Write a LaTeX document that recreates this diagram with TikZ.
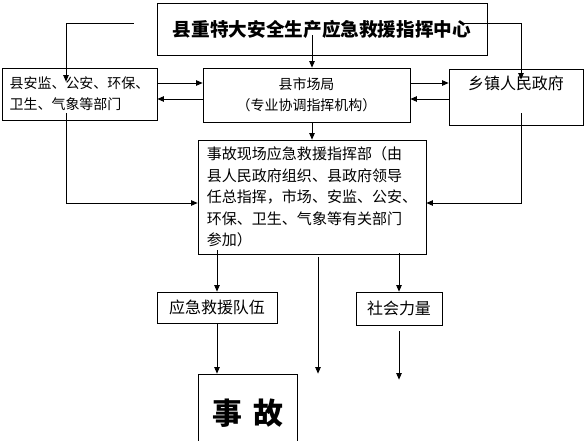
\documentclass[tikz,border=0pt]{standalone}
\usepackage{fontspec}
\setmainfont{Noto Sans CJK SC}
\usetikzlibrary{arrows.meta,calc}

\begin{document}
\begin{tikzpicture}[
  box/.style={draw, rectangle, line width=.9pt, inner sep=0pt},
  smalltext/.style={font=\fontsize{15.9pt}{23.9pt}\selectfont},
  cmdtext/.style={font=\fontsize{17.1pt}{24.5pt}\selectfont},
  midtext/.style={font=\fontsize{18.2pt}{24pt}\selectfont},
  arr/.style={-{Triangle[length=.26cm,width=.22cm]}, line width=.9pt}
]
\useasboundingbox (0,0) rectangle (23.4cm,-17.64cm);
\clip (0,0) rectangle (23.4cm,-17.64cm);

\node (center) at(12.88cm,-1.16cm) [box, minimum width=13.2cm, minimum height=2.08cm, font=\fontsize{21.2pt}{24pt}\selectfont\bfseries]{县重特大安全生产应急救援指挥中心};

\node (dept) at(3.18cm,-3.76cm) [box, smalltext, align=left, minimum width=6.2cm, minimum height=2.08cm]{县安监、公安、环保、\\卫生、气象等部门};
\node (market) at(12.26cm,-3.8cm) [box, smalltext, align=center, minimum width=8.28cm, minimum height=2.16cm]{县市场局\\（专业协调指挥机构）};
\node (town) at(20.64cm,-3.88cm) [box, minimum width=5.36cm, minimum height=2.24cm, label={[anchor=center, yshift=-.6cm, midtext]north:乡镇人民政府}]{};

\node (cmd) at(12.48cm,-7.88cm) [box, cmdtext, align=left, minimum width=9.12cm, minimum height=4.56cm]{事故现场应急救援指挥部（由\\县人民政府组织、县政府领导\\任总指挥，市场、安监、公安、\\环保、卫生、气象等有关部门\\参加）};

\node (team) at(8.68cm,-12.3cm) [box, midtext, minimum width=4.8cm, minimum height=1.24cm]{应急救援队伍};
\node (social) at(15.96cm,-12.34cm) [box, midtext, minimum width=3.44cm, minimum height=1.32cm]{社会力量};

\node (accident) at(9.9cm,-16.52cm) [box, minimum width=3.96cm, minimum height=3.12cm, font=\fontsize{34pt}{36pt}\selectfont\bfseries]{事\hspace{.45cm}故};

% from the centre
\draw [arr] ([xshift=-.92cm,yshift=.24cm]center.west) -| ([xshift=-.54cm,yshift=-.56cm]dept.north);
\draw [arr] ([xshift=-1.08cm,yshift=.24cm]center.east) -| ([xshift=.2cm,yshift=-.44cm]town.north);
\draw [arr] ([xshift=-.4cm,yshift=.8cm]center.south) -- ([xshift=-.4cm]center.south |- market.north);

% between the offices
\draw [arr] ([yshift=.44cm]dept.east) -- ([yshift=.44cm]dept.east -| market.west);
\draw [arr] ([yshift=-.2cm]dept.east -| market.west) -- ([yshift=-.2cm]dept.east);
\draw [arr] ([yshift=.48cm]market.east) -- ([yshift=.48cm]market.east -| town.west);
\draw [arr] ([yshift=-.16cm]market.east -| town.west) -- ([yshift=-.16cm]market.east);

% into the command
\draw [arr] ([xshift=.22cm]market.south) -- ([xshift=.22cm]market.south |- cmd.north);
\draw [arr] ([xshift=-.54cm,yshift=.28cm]dept.south) |- ([yshift=-.24cm]cmd.west);
\draw [arr] ([xshift=.2cm,yshift=.48cm]town.south) |- ([yshift=-.24cm]cmd.east);

% down to the accident
\draw [arr] ([yshift=.16cm]cmd.south -| team.north) -- (team.north);
\draw [arr] ([xshift=.24cm,yshift=-.12cm]cmd.south) -- ([xshift=.24cm]cmd.south |- accident.north);
\draw [arr] ([yshift=.04cm]cmd.south -| social.north) -- (social.north);
\draw [arr] (team.south) -- (team.south |- accident.north);
\draw [arr] ([yshift=-.24cm]social.south) -- ([yshift=-.24cm]social.south |- accident.north);

\end{tikzpicture}
\end{document}
